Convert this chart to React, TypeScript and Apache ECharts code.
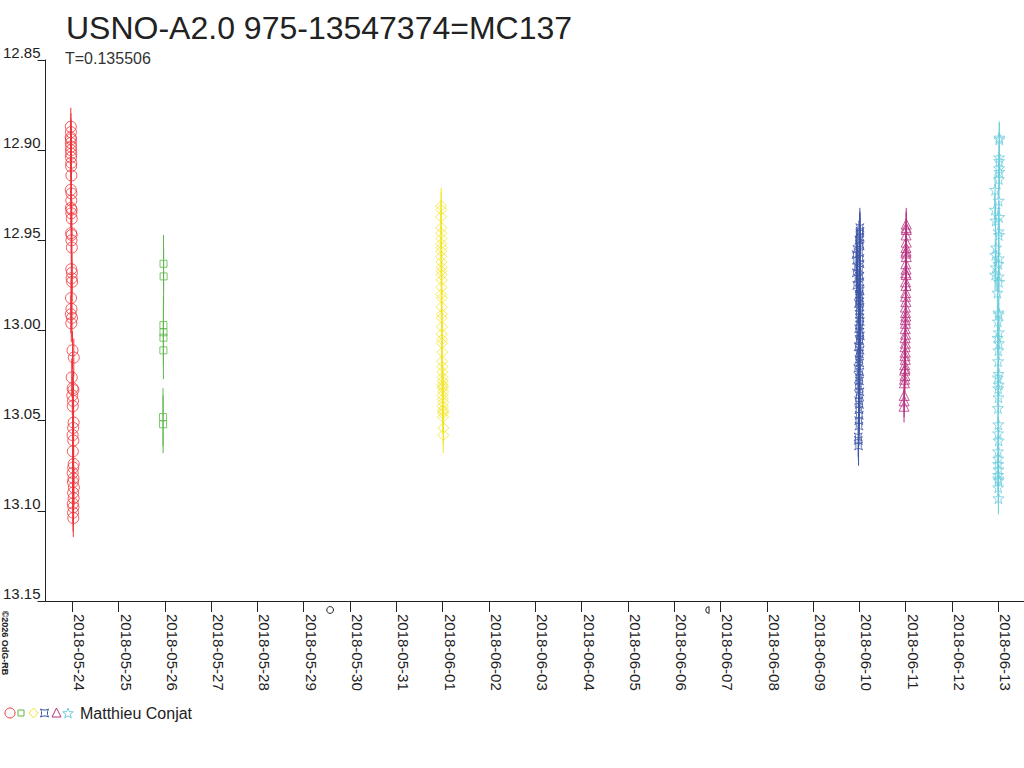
import React, { useEffect, useRef } from "react";
import * as echarts from "echarts";

// ---- data (x = days since 2018-05-24 00:00 UT, y = magnitude) ----
const dateLabels = [
  "2018-05-24", "2018-05-25", "2018-05-26", "2018-05-27", "2018-05-28", "2018-05-29",
  "2018-05-30", "2018-05-31", "2018-06-01", "2018-06-02", "2018-06-03", "2018-06-04",
  "2018-06-05", "2018-06-06", "2018-06-07", "2018-06-08", "2018-06-09", "2018-06-10",
  "2018-06-11", "2018-06-12", "2018-06-13",
];
const tickDays = [0, 1, 2, 3, 4, 5, 6, 7, 8, 9, 10, 11, 12, 13, 14, 15, 16, 17, 18, 19, 20];
const yTicks = [12.85, 12.9, 12.95, 13.0, 13.05, 13.1, 13.15];

const redT = [-0.030,-0.028,-0.032,-0.026,-0.030,-0.024,-0.028,-0.022,-0.026,-0.020,
  -0.024,-0.018,-0.030,-0.016,-0.020,-0.028,-0.014,-0.018,-0.010,-0.024,
  -0.012,-0.016,-0.008,-0.020,-0.006,-0.012,-0.002,-0.026,-0.016,-0.030,
  -0.004,-0.020,0.006,0.034,-0.010,0.010,0.026,0.002,0.018,0.012,
  0.030,0.020,0.008,0.024,0.014,0.032,0.022,0.010,0.028,0.016,
  0.036,0.020,0.030,0.014,0.026,0.018,0.024];
const redMag = [12.887,12.890,12.893,12.894,12.896,12.898,12.900,12.902,12.904,12.907,
  12.909,12.914,12.922,12.924,12.928,12.932,12.933,12.935,12.938,12.946,
  12.947,12.950,12.954,12.966,12.968,12.971,12.973,12.982,12.988,12.991,
  12.993,12.996,13.011,13.015,13.026,13.032,13.033,13.036,13.039,13.042,
  13.051,13.054,13.058,13.061,13.067,13.074,13.076,13.079,13.082,13.084,
  13.087,13.090,13.093,13.096,13.098,13.101,13.104];

const greenT = [1.972, 1.974, 1.970, 1.971, 1.970, 1.969, 1.962, 1.963];
const greenMag = [12.963, 12.970, 12.997, 13.001, 13.004, 13.011, 13.048, 13.052];

const yellowT = [7.968,7.970,7.966,7.972,7.968,7.974,7.970,7.976,7.972,7.968,
  7.974,7.978,7.972,7.976,7.980,7.974,7.970,7.982,7.978,7.984,
  7.976,7.986,7.980,7.988,7.984,7.990,7.986,7.994,7.990,7.998,
  8.002,7.994,8.006,8.000,8.010,7.996,8.004,8.012,8.000,8.008,
  8.014,8.004,8.010,8.016,8.012];
const yellowMag = [12.931,12.933,12.937,12.943,12.946,12.949,12.952,12.954,12.956,12.959,
  12.962,12.965,12.967,12.969,12.972,12.976,12.980,12.982,12.987,12.991,
  12.993,12.998,13.002,13.005,13.007,13.012,13.017,13.020,13.023,13.026,
  13.028,13.030,13.031,13.032,13.034,13.036,13.038,13.040,13.042,13.044,
  13.045,13.046,13.048,13.054,13.058];

const blueT = [17.010,17.014,17.008,17.012,16.990,17.006,17.016,16.950,17.004,16.930,
  17.010,16.940,17.014,16.960,17.002,16.935,17.008,16.970,17.012,16.945,
  17.000,17.016,16.990,17.006,17.010,16.980,17.014,17.002,16.995,17.012,
  17.018,17.004,16.985,17.010,17.020,16.998,17.008,16.975,17.014,17.000,
  16.990,17.006,16.968,17.010,16.992,17.002,16.980,17.012,16.996,16.985,
  17.004,16.990,16.998,16.986,16.992,16.975,16.978,16.982];
const blueMag = [12.943,12.945,12.946,12.948,12.950,12.952,12.953,12.955,12.957,12.958,
  12.960,12.961,12.963,12.965,12.966,12.968,12.970,12.971,12.973,12.975,
  12.977,12.978,12.980,12.982,12.984,12.985,12.987,12.989,12.991,12.993,
  12.995,12.997,12.999,13.001,13.003,13.005,13.006,13.009,13.011,13.013,
  13.016,13.018,13.021,13.023,13.026,13.028,13.031,13.034,13.036,13.039,
  13.041,13.044,13.047,13.050,13.053,13.059,13.061,13.064];

const magentaT = [18.012,18.010,18.014,18.008,18.012,18.006,18.010,18.004,18.012,18.002,
  18.008,18.000,18.010,17.998,18.006,18.002,17.996,18.004,17.994,17.998,
  18.002,17.992,17.996,17.990,17.998,17.988,17.994,17.986,17.990,17.984,
  17.992,17.980,17.986,17.978,17.984,17.976,17.972,17.968,17.966,17.964];
const magentaMag = [12.941,12.943,12.944,12.947,12.951,12.954,12.956,12.957,12.959,12.963,
  12.966,12.968,12.969,12.973,12.975,12.979,12.981,12.984,12.987,12.990,
  12.992,12.994,12.996,12.999,13.002,13.004,13.007,13.009,13.012,13.014,
  13.016,13.019,13.021,13.022,13.025,13.027,13.029,13.036,13.039,13.042];

const cyanT = [20.020,20.022,20.018,20.020,20.016,20.022,20.014,19.930,20.010,19.925,
  20.018,19.940,20.006,20.014,19.950,19.935,20.012,20.004,19.945,19.930,
  20.008,20.016,19.980,20.002,20.012,19.990,20.010,19.985,20.014,20.000,
  19.995,20.006,19.990,20.010,19.998,20.004,19.992,20.000,19.996,20.008,
  19.994,20.002,19.998,20.004,19.996,20.000,20.006,19.998,20.002];
const cyanMag = [12.893,12.894,12.904,12.906,12.910,12.912,12.916,12.922,12.928,12.933,
  12.937,12.939,12.945,12.947,12.954,12.958,12.960,12.963,12.965,12.969,
  12.970,12.973,12.979,12.990,12.991,12.995,13.001,13.004,13.007,13.011,
  13.017,13.024,13.026,13.030,13.032,13.037,13.043,13.052,13.057,13.061,
  13.067,13.071,13.074,13.077,13.080,13.082,13.083,13.087,13.093];

const seriesErr = [0.0105, 0.016, 0.01, 0.011, 0.009, 0.009];

const moonDays = [5.57, 13.71];
const moonKinds = ["full", "lastQuarter"];

const observer = "Matthieu Conjat";
const titleText = "USNO-A2.0 975-13547374=MC137";
const subtitleText = "T=0.135506";
const copyright = "\u00a92026 OdG-RB";

// ---- styles ----
const FONT = "'Liberation Sans', Arial, sans-serif";
const colors = ["#ee3339", "#5cb84a", "#f3e52a", "#3f56a6", "#b8327f", "#6ccddc"];
const blueSym = "path://M0,0L3,1.6L7,1.6L10,0L8.4,3L8.4,7L10,10L7,8.4L3,8.4L0,10L1.6,7L1.6,3Z";
const starSym = "path://M10,0L12.35,6.76L19.51,6.91L13.8,11.24L15.88,18.09L10,14L4.12,18.09L6.2,11.24L0.49,6.91L7.65,6.76Z";
const symbols = ["circle", "rect", "diamond", blueSym, "triangle", starSym];
const sizes = [11, 7, 11, 8, 10, 11];

const groups = [
  [redT, redMag],
  [greenT, greenMag],
  [yellowT, yellowMag],
  [blueT, blueMag],
  [magentaT, magentaMag],
  [cyanT, cyanMag],
];

function starPoints(cx: number, cy: number, R: number, r: number) {
  const pts: number[][] = [];
  for (let i = 0; i < 10; i++) {
    const a = -Math.PI / 2 + (i * Math.PI) / 5;
    const rr = i % 2 === 0 ? R : r;
    pts.push([cx + rr * Math.cos(a), cy + rr * Math.sin(a)]);
  }
  return pts;
}

export default function App() {
  const ref = useRef<HTMLDivElement>(null);
  useEffect(() => {
    if (!ref.current) return;
    const chart = echarts.init(ref.current, undefined, { renderer: "svg" });

    const series: any[] = [];
    groups.forEach(([ts, ms], gi) => {
      const data = ts.map((t, i) => [t, ms[i]]);
      const err = seriesErr[gi];
      const col = colors[gi];
      series.push({
        type: "custom",
        silent: true,
        data,
        encode: { x: 0, y: 1 },
        renderItem: (params: any, api: any) => {
          const x = api.value(0);
          const m = api.value(1);
          const p1 = api.coord([x, m - err]);
          const p2 = api.coord([x, m + err]);
          return {
            type: "line",
            shape: { x1: p1[0], y1: p1[1], x2: p2[0], y2: p2[1] },
            style: { stroke: col, lineWidth: 1 },
          };
        },
        z: 2,
      });
      series.push({
        type: "scatter",
        silent: true,
        data,
        symbol: symbols[gi],
        symbolSize: sizes[gi],
        itemStyle: { color: "rgba(0,0,0,0)", borderColor: col, borderWidth: 1 },
        z: 3,
      });
    });

    series.push({
      type: "custom",
      silent: true,
      clip: false,
      data: moonDays.map((d, i) => [d, 13.15, i]),
      encode: { x: 0, y: 1 },
      renderItem: (params: any, api: any) => {
        const p = api.coord([api.value(0), api.value(1)]);
        const kind = moonKinds[api.value(2)];
        const cx = p[0];
        const cy = p[1] + 9;
        if (kind === "full") {
          return {
            type: "circle",
            shape: { cx, cy, r: 3.4 },
            style: { stroke: "#222", fill: "none", lineWidth: 1 },
          };
        }
        return {
          type: "group",
          children: [
            {
              type: "arc",
              shape: { cx: cx + 2, cy, r: 3.3, startAngle: Math.PI / 2, endAngle: (3 * Math.PI) / 2, clockwise: true },
              style: { stroke: "#222", fill: "none", lineWidth: 1 },
            },
            {
              type: "line",
              shape: { x1: cx + 2, y1: cy - 3.5, x2: cx + 2, y2: cy + 3.5 },
              style: { stroke: "#222", lineWidth: 1 },
            },
          ],
        };
      },
    });

    const lx = [10, 21, 33.5, 44.5, 56.5, 68];
    const ly = 713;
    const legendGraphics: any[] = [
      { type: "circle", shape: { cx: lx[0], cy: ly, r: 5 }, style: { stroke: colors[0], fill: "none", lineWidth: 1 } },
      { type: "rect", shape: { x: lx[1] - 3, y: ly - 3, width: 6, height: 6 }, style: { stroke: colors[1], fill: "none", lineWidth: 1 } },
      { type: "polygon", shape: { points: [[lx[2], ly - 5], [lx[2] + 4.5, ly], [lx[2], ly + 5], [lx[2] - 4.5, ly]] }, style: { stroke: colors[2], fill: "none", lineWidth: 1 } },
      { type: "polygon", shape: { points: [[lx[3] - 4, ly - 4], [lx[3] - 1.5, ly - 3], [lx[3] + 1.5, ly - 3], [lx[3] + 4, ly - 4], [lx[3] + 3, ly - 1.5], [lx[3] + 3, ly + 1.5], [lx[3] + 4, ly + 4], [lx[3] + 1.5, ly + 3], [lx[3] - 1.5, ly + 3], [lx[3] - 4, ly + 4], [lx[3] - 3, ly + 1.5], [lx[3] - 3, ly - 1.5]] }, style: { stroke: colors[3], fill: "none", lineWidth: 1 } },
      { type: "polygon", shape: { points: [[lx[4], ly - 5], [lx[4] + 4.5, ly + 4], [lx[4] - 4.5, ly + 4]] }, style: { stroke: colors[4], fill: "none", lineWidth: 1 } },
      { type: "polygon", shape: { points: starPoints(lx[5], ly + 0.5, 5.5, 2.3) }, style: { stroke: colors[5], fill: "none", lineWidth: 1 } },
      { type: "text", x: 80, y: ly, style: { text: observer, font: `16px ${FONT}`, fill: "#222", verticalAlign: "middle", align: "left" } },
    ];

    chart.setOption({
      animation: false,
      backgroundColor: "#fff",
      grid: { left: 45, right: 0, top: 60, bottom: 167, containLabel: false },
      xAxis: {
        type: "value",
        min: -0.576,
        max: 20.555,
        splitLine: { show: false },
        axisLine: { onZero: false, lineStyle: { color: "#222", width: 1 } },
        axisTick: { show: true, length: 11, customValues: tickDays, lineStyle: { color: "#222" } },
        axisLabel: {
          customValues: tickDays,
          rotate: -90,
          margin: 13,
          fontSize: 15,
          fontFamily: FONT,
          color: "#222",
          verticalAlign: "bottom",
          formatter: (v: number) => dateLabels[Math.round(v)] ?? "",
        },
      },
      yAxis: {
        type: "value",
        inverse: true,
        min: 12.85,
        max: 13.15,
        interval: 0.05,
        splitLine: { show: false },
        axisLine: { show: true, onZero: false, lineStyle: { color: "#222", width: 1 } },
        axisTick: { show: true, length: 8, lineStyle: { color: "#222" } },
        axisLabel: {
          margin: 5,
          fontSize: 15,
          fontFamily: FONT,
          color: "#222",
          verticalAlign: "bottom",
          formatter: (v: number) => {
            const t = yTicks.find((k) => Math.abs(k - v) < 1e-6);
            return (t ?? v).toFixed(2);
          },
        },
      },
      graphic: [
        { type: "text", x: 66, y: 28, style: { text: titleText, font: `32px ${FONT}`, fill: "#222", verticalAlign: "middle" } },
        { type: "text", x: 65, y: 58, style: { text: subtitleText, font: `16px ${FONT}`, fill: "#333", verticalAlign: "middle" } },
        { type: "text", x: 5, y: 643, rotation: -Math.PI / 2, style: { text: copyright, font: `bold 9px ${FONT}`, fill: "#222", align: "center", verticalAlign: "middle" } },
        ...legendGraphics,
      ],
      series,
    });
    return () => chart.dispose();
  }, []);
  return (
    <div
      ref={ref}
      style={{ position: "absolute", left: 0, top: 0, width: 1024, height: 768, background: "#fff" }}
    />
  );
}
